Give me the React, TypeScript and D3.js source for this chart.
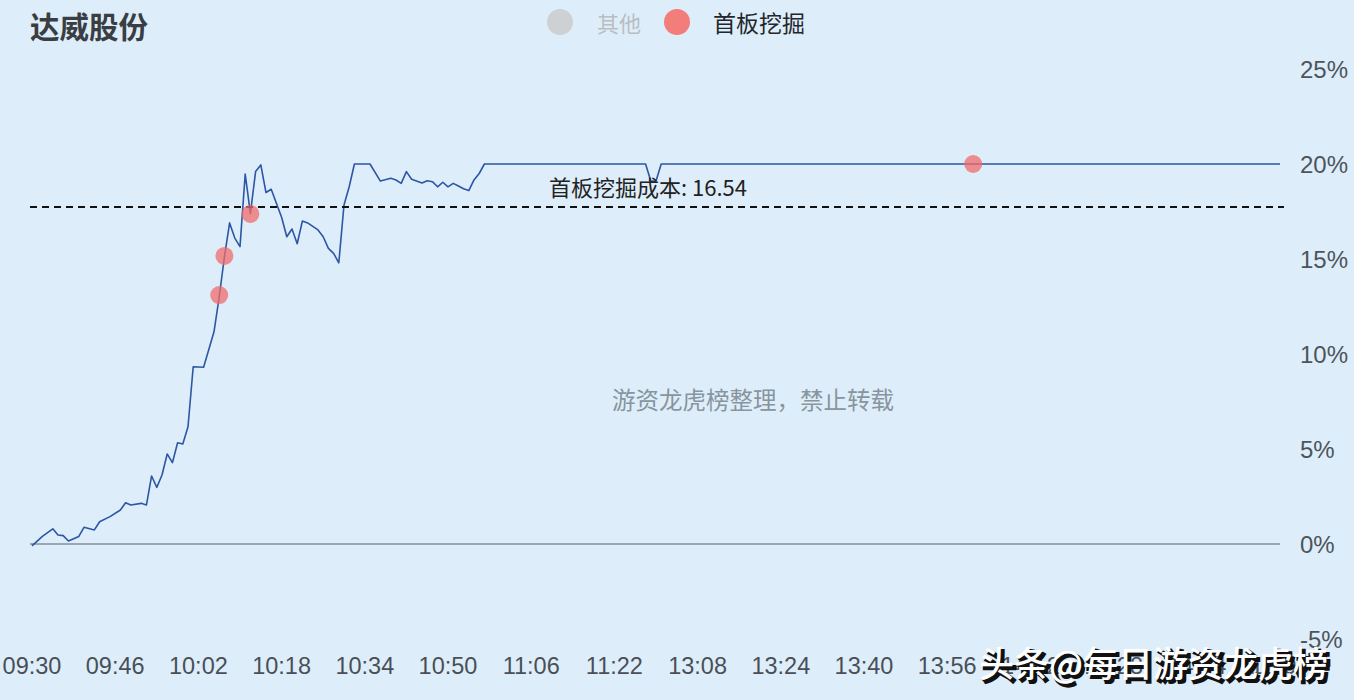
import React from 'react';
import * as d3 from 'd3';

const title = '达威股份';
const legendNames = ['其他', '首板挖掘'];
const legendColors = ['#cdd1d4', '#f27d7b'];

// minute offsets from 09:30 (11:30 and 13:00 merged), percent change
const minuteIdx = [
  0, 2, 4, 5, 6, 7, 9, 10, 12, 13, 15, 17, 18, 19, 21, 22, 23, 24, 25, 26, 27, 28, 29, 30, 31, 33, 35,
  36, 37, 38, 39, 40, 41, 42, 43, 44, 45, 46, 47, 48, 49, 50, 51, 52, 53, 55, 56, 57, 58, 59, 60, 61,
  62, 65, 67, 69, 70, 71, 72, 73, 75, 76, 77, 78, 79, 80, 81, 82, 83, 84, 85, 86, 87, 118, 119, 120,
  121, 240,
];
const pctValues = [
  -0.1, 0.4, 0.8, 0.47, 0.44, 0.16, 0.4, 0.88, 0.74, 1.17, 1.44, 1.79, 2.17, 2.05, 2.14, 2.05, 3.58,
  2.98, 3.63, 4.74, 4.28, 5.33, 5.26, 6.17, 9.33, 9.3, 11.17, 13.0, 15.1, 16.9, 16.1, 15.65, 19.47,
  17.4, 19.6, 19.95, 18.5, 18.67, 17.93, 17.2, 16.17, 16.58, 15.8, 17.0, 16.9, 16.53, 16.17, 15.56,
  15.3, 14.8, 17.84, 18.8, 20.0, 20.0, 19.1, 19.25, 19.16, 18.98, 19.6, 19.2, 19.0, 19.12, 19.07,
  18.8, 19.04, 18.8, 18.98, 18.84, 18.7, 18.6, 19.16, 19.5, 20.0, 20.0, 19.1, 19.1, 20.0, 20.0,
];

const dotIdx = [36, 37, 42, 181];
const dotPct = [13.1, 15.16, 17.37, 20.0];

const costPct = 17.74;
const costLabel = '首板挖掘成本: 16.54';
const centerMark = '游资龙虎榜整理，禁止转载';
const cornerMark = '头条@每日游资龙虎榜';

const yTicks = [-5, 0, 5, 10, 15, 20, 25];
const xTickIdx = [0, 16, 32, 48, 64, 80, 96, 112, 128, 144, 160, 176, 192, 208, 224, 240];
const xTickLabels = [
  '09:30', '09:46', '10:02', '10:18', '10:34', '10:50', '11:06', '11:22',
  '13:08', '13:24', '13:40', '13:56', '14:12', '14:28', '14:44', '15:00',
];

const W = 1354;
const H = 700;
const cjk = '"Noto Sans CJK SC", "Noto Sans", sans-serif';
const num = '"Liberation Sans", Arial, sans-serif';

export default function App() {
  const x = d3.scaleLinear().domain([0, 240]).range([32, 1280]);
  const y = d3.scaleLinear().domain([-5, 25]).range([639, 69]);
  const pts: [number, number][] = minuteIdx.map((m, i) => [m, pctValues[i]]);
  const line = d3
    .line<[number, number]>()
    .x((d) => x(d[0]))
    .y((d) => y(d[1]));

  return (
    <div style={{ position: 'fixed', left: 0, top: 0, width: W, height: H }}>
      <svg width={W} height={H} style={{ display: 'block' }}>
        <rect x={0} y={0} width={W} height={H} fill="#ddeefa" />
        <text x={30} y={25} dominantBaseline="central" fontFamily={cjk} fontSize={29.5} fontWeight={600} fill="#3a3d42">
          {title}
        </text>
        {/* legend */}
        <circle cx={560} cy={22} r={13} fill={legendColors[0]} />
        <text x={597} y={22} dominantBaseline="central" fontFamily={cjk} fontSize={22} fill="#b9bec2">
          {legendNames[0]}
        </text>
        <circle cx={677} cy={22} r={13} fill={legendColors[1]} />
        <text x={713} y={22} dominantBaseline="central" fontFamily={cjk} fontSize={23} fill="#23262b">
          {legendNames[1]}
        </text>

        {/* y axis labels */}
        {yTicks.map((t) => (
          <text key={t} x={1300} y={y(t)} dominantBaseline="central" fontFamily={num} fontSize={24} fill="#4e545b">
            {t}%
          </text>
        ))}
        {/* x axis labels */}
        {xTickIdx.map((m, i) => (
          <text key={m} x={x(m)} y={666} dominantBaseline="central" textAnchor="middle" fontFamily={num} fontSize={23.5} fill="#4a4f57">
            {xTickLabels[i]}
          </text>
        ))}

        {/* zero line */}
        <line x1={30} x2={1280} y1={y(0)} y2={y(0)} stroke="#5b6168" strokeWidth={1.2} />

        <text x={753} y={399} textAnchor="middle" dominantBaseline="central" fontFamily={cjk} fontSize={23.5} fill="#88949e">
          {centerMark}
        </text>

        {/* price line */}
        <path d={line(pts) || ''} fill="none" stroke="#2d56a5" strokeWidth={1.6} strokeLinejoin="round" />

        {/* cost line */}
        <line x1={30} x2={1284} y1={y(costPct)} y2={y(costPct)} stroke="#111" strokeWidth={2} strokeDasharray="7,5" />
        <text x={549} y={186} dominantBaseline="central" fontFamily={cjk} fontSize={22} fill="#222">
          {costLabel}
        </text>

        {/* dots */}
        {dotIdx.map((m, i) => (
          <circle key={m} cx={x(m)} cy={y(dotPct[i])} r={9} fill="#f26b6b" fillOpacity={0.75} />
        ))}

        {/* corner watermark */}
        <text x={982} y={664} dominantBaseline="central" fontFamily={cjk} fontSize={35} fontWeight={500} fill="#111" stroke="#111" strokeWidth={2}>
          {cornerMark}
        </text>
        <text x={979} y={661} dominantBaseline="central" fontFamily={cjk} fontSize={35} fontWeight={500} fill="#ffffff">
          {cornerMark}
        </text>
      </svg>
    </div>
  );
}
